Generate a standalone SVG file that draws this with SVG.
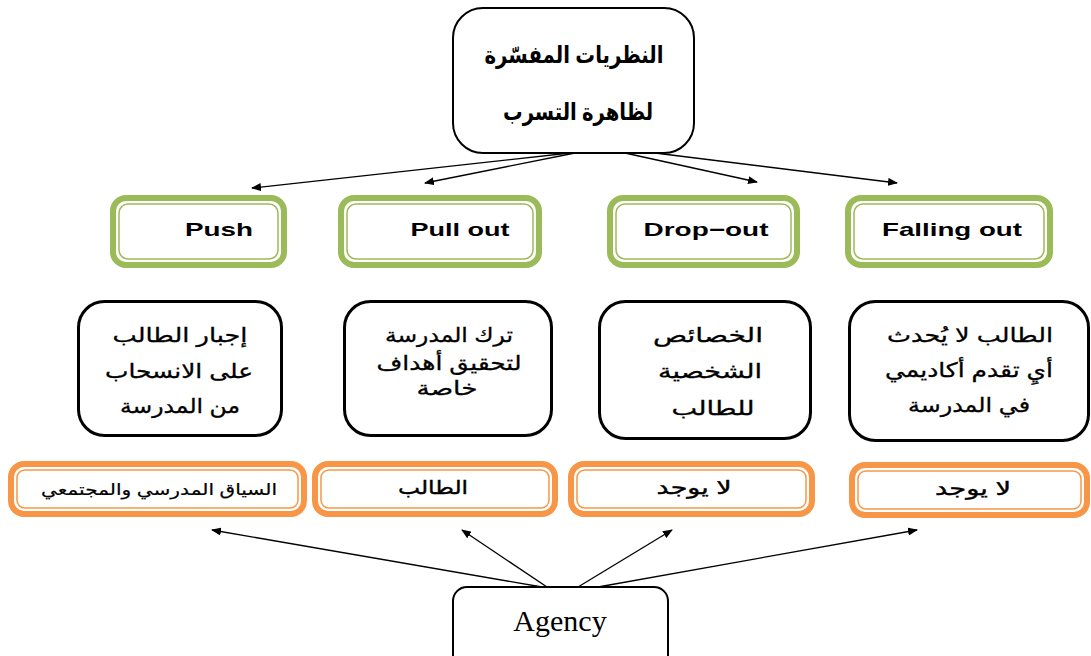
<svg xmlns="http://www.w3.org/2000/svg" width="1091" height="656" viewBox="0 0 1091 656">
<defs>
<marker id="ah" markerWidth="10" markerHeight="8" refX="9" refY="4" orient="auto" markerUnits="userSpaceOnUse">
<path d="M0,0 L10,4 L0,8 z" fill="#000"/>
</marker>
<style>
.blk{fill:#fff;stroke:#000;stroke-width:3}
.top{fill:#fff;stroke:#000;stroke-width:2}
.gO{fill:#fff;stroke:#9BBB59;stroke-width:6}
.gI{fill:none;stroke:#9BBB59;stroke-width:1.5}
.oO{fill:#fff;stroke:#F79646;stroke-width:6}
.oI{fill:none;stroke:#F79646;stroke-width:1.5}
.en{font-family:"Liberation Sans",Arial,sans-serif;font-size:19px;font-weight:bold;fill:#000;text-anchor:middle}
.ar{font-family:"Liberation Sans","DejaVu Sans",sans-serif;font-size:20px;fill:#000;text-anchor:middle;stroke:#000;stroke-width:0.3}
.ars{font-family:"Liberation Sans","DejaVu Sans",sans-serif;font-size:19px;fill:#000;text-anchor:middle;stroke:#000;stroke-width:0.4}
.arb{font-family:"Liberation Sans","DejaVu Sans",sans-serif;font-size:24px;font-weight:bold;fill:#000;text-anchor:middle}
.con{stroke:#000;stroke-width:1.3;fill:none;marker-end:url(#ah)}
</style>
</defs>
<rect width="1091" height="656" fill="#fff"/>
<g id="connectors">
<line class="con" x1="570" y1="153" x2="252" y2="188"/>
<line class="con" x1="575" y1="153" x2="425" y2="183"/>
<line class="con" x1="625" y1="153" x2="757" y2="182"/>
<line class="con" x1="655" y1="153" x2="897" y2="183"/>
<line class="con" x1="542" y1="587" x2="212" y2="530"/>
<line class="con" x1="547" y1="587" x2="462" y2="530"/>
<line class="con" x1="578" y1="587" x2="672" y2="530"/>
<line class="con" x1="598" y1="587" x2="917" y2="530"/>
</g>
<g id="title">
<rect class="top" x="453" y="8" width="241" height="145" rx="30"/>
<text class="arb" x="574" y="63" direction="rtl" textLength="179" lengthAdjust="spacingAndGlyphs">النظريات المفسّرة</text>
<text class="arb" x="578" y="120" direction="rtl" textLength="150" lengthAdjust="spacingAndGlyphs">لظاهرة التسرب</text>
</g>
<g id="push">
<rect class="gO" x="113" y="198" width="171" height="67" rx="13"/>
<rect class="gI" x="119" y="204" width="159" height="55" rx="9"/>
<text class="en" x="219" y="236" textLength="68" lengthAdjust="spacingAndGlyphs">Push</text>
</g>
<g id="pullout">
<rect class="gO" x="341" y="198" width="198" height="67" rx="13"/>
<rect class="gI" x="347" y="204" width="186" height="55" rx="9"/>
<text class="en" x="460" y="236" textLength="99" lengthAdjust="spacingAndGlyphs">Pull out</text>
</g>
<g id="dropout">
<rect class="gO" x="610" y="198" width="187" height="67" rx="13"/>
<rect class="gI" x="616" y="204" width="175" height="55" rx="9"/>
<text class="en" x="706" y="236" textLength="125" lengthAdjust="spacingAndGlyphs">Drop−out</text>
</g>
<g id="fallingout">
<rect class="gO" x="848" y="198" width="202" height="67" rx="13"/>
<rect class="gI" x="854" y="204" width="190" height="55" rx="9"/>
<text class="en" x="952" y="236" textLength="140" lengthAdjust="spacingAndGlyphs">Falling out</text>
</g>
<g id="desc1">
<rect class="blk" x="78.5" y="301.5" width="203" height="134" rx="26"/>
<text class="ar" x="180" y="342" direction="rtl" textLength="135" lengthAdjust="spacingAndGlyphs">إجبار الطالب</text>
<text class="ar" x="179" y="378" direction="rtl" textLength="148" lengthAdjust="spacingAndGlyphs">على الانسحاب</text>
<text class="ar" x="180" y="413" direction="rtl" textLength="120" lengthAdjust="spacingAndGlyphs">من المدرسة</text>
</g>
<g id="desc2">
<rect class="blk" x="344.5" y="301.5" width="207" height="134" rx="26"/>
<text class="ar" x="449" y="342" direction="rtl" textLength="128" lengthAdjust="spacingAndGlyphs">ترك المدرسة</text>
<text class="ar" x="449" y="370" direction="rtl" textLength="145" lengthAdjust="spacingAndGlyphs">لتحقيق أهداف</text>
<text class="ar" x="447" y="395" direction="rtl" textLength="61" lengthAdjust="spacingAndGlyphs">خاصة</text>
</g>
<g id="desc3">
<rect class="blk" x="599.5" y="301.5" width="211" height="137" rx="26"/>
<text class="ar" x="708" y="342" direction="rtl" textLength="110" lengthAdjust="spacingAndGlyphs">الخصائص</text>
<text class="ar" x="710" y="378" direction="rtl" textLength="104" lengthAdjust="spacingAndGlyphs">الشخصية</text>
<text class="ar" x="713" y="415" direction="rtl" textLength="83" lengthAdjust="spacingAndGlyphs">للطالب</text>
</g>
<g id="desc4">
<rect class="blk" x="849.5" y="301.5" width="239" height="139" rx="26"/>
<text class="ar" x="970" y="342" direction="rtl" textLength="166" lengthAdjust="spacingAndGlyphs">الطالب لا يُحدث</text>
<text class="ar" x="969" y="377" direction="rtl" textLength="168" lengthAdjust="spacingAndGlyphs">أيِ تقدم أكاديمي</text>
<text class="ar" x="969" y="412" direction="rtl" textLength="122" lengthAdjust="spacingAndGlyphs">في المدرسة</text>
</g>
<g id="agent1">
<rect class="oO" x="11" y="464" width="293" height="50" rx="13"/>
<rect class="oI" x="17" y="470" width="281" height="38" rx="8"/>
<text class="ar" x="159" y="495" style="font-size:16px;stroke-width:0.2" direction="rtl" textLength="236" lengthAdjust="spacingAndGlyphs">السياق المدرسي والمجتمعي</text>
</g>
<g id="agent2">
<rect class="oO" x="315" y="464" width="240" height="50" rx="13"/>
<rect class="oI" x="321" y="470" width="228" height="38" rx="8"/>
<text class="ars" x="433" y="494" direction="rtl" textLength="70" lengthAdjust="spacingAndGlyphs">الطالب</text>
</g>
<g id="agent3">
<rect class="oO" x="571" y="464" width="241" height="50" rx="13"/>
<rect class="oI" x="577" y="470" width="229" height="38" rx="8"/>
<text class="ars" x="694" y="494" direction="rtl" textLength="75" lengthAdjust="spacingAndGlyphs">لا يوجد</text>
</g>
<g id="agent4">
<rect class="oO" x="852" y="465" width="235" height="50" rx="13"/>
<rect class="oI" x="858" y="471" width="223" height="38" rx="8"/>
<text class="ars" x="973" y="495" direction="rtl" textLength="76" lengthAdjust="spacingAndGlyphs">لا يوجد</text>
</g>
<g id="agency">
<rect class="top" x="453" y="587" width="215" height="90" rx="14"/>
<text x="560" y="631" style="font-family:'Liberation Serif','Times New Roman',serif;font-size:30px;text-anchor:middle;fill:#000">Agency</text>
</g>
</svg>
